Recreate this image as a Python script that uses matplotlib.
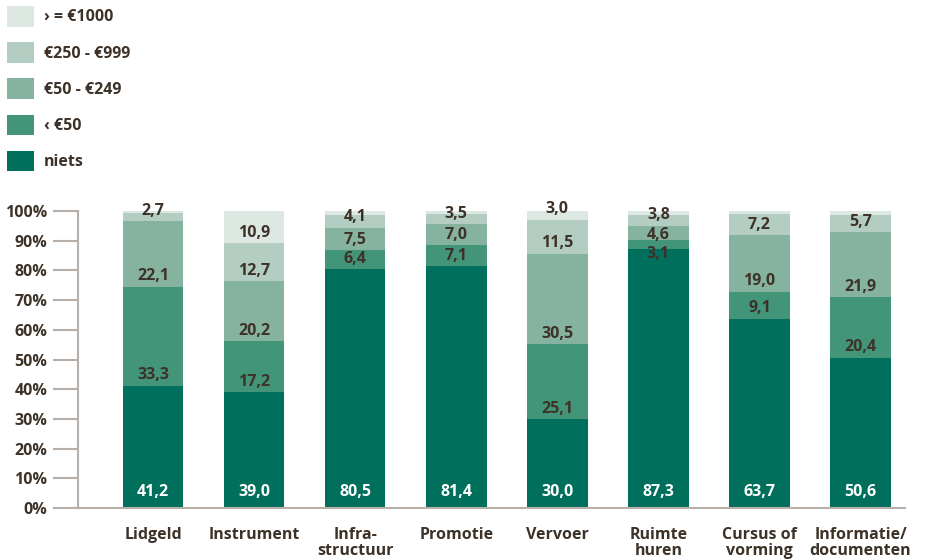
import matplotlib.pyplot as plt

# Data (percentages)
categories = ["Lidgeld", "Instrument", "Infra-\nstructuur", "Promotie", "Vervoer",
              "Ruimte\nhuren", "Cursus of\nvorming", "Informatie/\ndocumenten"]
niets = [41.2, 39.0, 80.5, 81.4, 30.0, 87.3, 63.7, 50.6]
lt_50 = [33.3, 17.2, 6.4, 7.1, 25.1, 3.1, 9.1, 20.4]
e50_249 = [22.1, 20.2, 7.5, 7.0, 30.5, 4.6, 19.0, 21.9]
e250_999 = [2.7, 12.7, 4.1, 3.5, 11.5, 3.8, 7.2, 5.7]
# top segment is whatever is left up to 100; only labelled where printed
ge_1000_label = [None, 10.9, None, None, 3.0, None, None, None]

series = [niets, lt_50, e50_249, e250_999]
names = ["niets", "‹ €50", "€50 - €249", "€250 - €999", "› = €1000"]
colors = ["#00705c", "#43957a", "#86b3a0", "#b3cdc3", "#dde8e3"]
txt = "#3d3228"

plt.rcParams['font.family'] = ['Open Sans', 'DejaVu Sans']
plt.rcParams['font.weight'] = 'bold'

fig = plt.figure(figsize=(9.27, 5.6), dpi=100)
ax = fig.add_axes([78 / 927, 52 / 560, (905 - 78) / 927, 297 / 560])

x = list(range(len(categories)))
width = 0.6
bottoms = [0.0] * len(categories)
handles = []
label_pos = [[] for _ in categories]
for k, vals in enumerate(series):
    b = ax.bar(x, vals, width, bottom=bottoms, color=colors[k], linewidth=0)
    handles.append(b)
    for i, v in enumerate(vals):
        label_pos[i].append((bottoms[i], v, k))
    bottoms = [bb + v for bb, v in zip(bottoms, vals)]
top = [100 - bb for bb in bottoms]
b = ax.bar(x, top, width, bottom=bottoms, color=colors[4], linewidth=0)
handles.append(b)
for i, v in enumerate(ge_1000_label):
    if v is not None:
        label_pos[i].append((bottoms[i], v, 4))

# value labels: near segment bottom, pushed down when they crowd
for i, items in enumerate(label_pos):
    prev = None
    for base, v, k in reversed(items):
        y = 5.5 if k == 0 else base + 3.5
        if prev is not None:
            y = min(y, prev - 6.5)
        prev = y
        ax.text(i, y, f"{v:.1f}".replace('.', ','), ha='center', va='center',
                fontsize=11.5, fontweight='bold',
                color='white' if k == 0 else txt, clip_on=False)

ax.set_xlim(-0.742, 7.44)
ax.set_ylim(0, 100)
ax.set_yticks(range(0, 101, 10))
ax.set_yticklabels([f"{t}%" for t in range(0, 101, 10)])
ax.set_xticks(x)
ax.set_xticklabels(categories, linespacing=0.95)
ax.tick_params(axis='x', length=0, pad=14, labelsize=11.5, labelcolor=txt)
ax.tick_params(axis='y', length=18, width=1.5, color='#b8b0a8', pad=4,
               labelsize=11.5, labelcolor=txt)
for s in ['top', 'right']:
    ax.spines[s].set_visible(False)
for s in ['left', 'bottom']:
    ax.spines[s].set_color('#b8b0a8')
    ax.spines[s].set_linewidth(1.5)

fig.legend(handles[::-1], names[::-1], loc='upper left',
           bbox_to_anchor=(7 / 927, 1 - 6 / 560), frameon=False,
           fontsize=11.5, handlelength=1.7, handleheight=1.6,
           handletextpad=0.6, labelspacing=0.98, borderpad=0,
           borderaxespad=0, labelcolor=txt)

fig.savefig("out.png", dpi=100)
